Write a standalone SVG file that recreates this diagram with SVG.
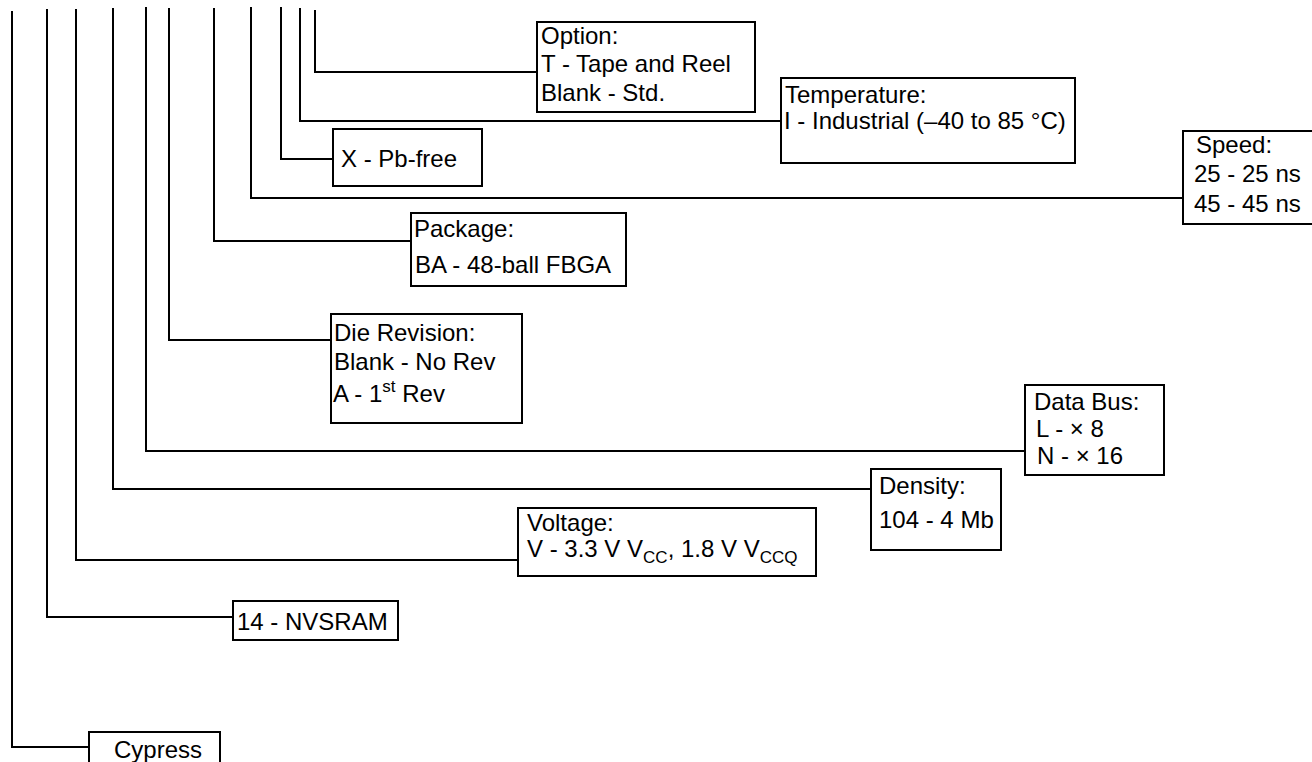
<svg xmlns="http://www.w3.org/2000/svg" width="1312" height="762" viewBox="0 0 1312 762">
<style>
.bg{fill:#ffffff}
.box{fill:#ffffff;stroke:#000000;stroke-width:2}
.con{fill:none;stroke:#000000;stroke-width:2;stroke-linejoin:miter;stroke-linecap:square}
text{font-family:"Liberation Sans",Arial,sans-serif;font-size:24px;fill:#000000}
.s{font-size:17px}
</style>
<rect class="bg" x="0" y="0" width="1312" height="762"/>
<g id="connectors">
<polyline class="con" points="315,11 315,72 537,72"/>
<polyline class="con" points="300,9 300,121 781,121"/>
<polyline class="con" points="281,8 281,159 333,159"/>
<polyline class="con" points="251,8 251,198 1183,198"/>
<polyline class="con" points="214,9 214,241 411,241"/>
<polyline class="con" points="169,9 169,340 331,340"/>
<polyline class="con" points="146,8 146,451 1025,451"/>
<polyline class="con" points="113,9 113,489 871,489"/>
<polyline class="con" points="76,10 76,560 518,560"/>
<polyline class="con" points="47,10 47,617 233,617"/>
<polyline class="con" points="12,12 12,747 89,747"/>
</g>
<g id="option">
<rect class="box" x="537" y="22" width="218" height="90"/>
<text x="541" y="44">Option:</text>
<text x="541" y="72">T - Tape and Reel</text>
<text x="541" y="100.5">Blank - Std.</text>
</g>
<g id="temperature">
<rect class="box" x="781" y="78" width="294" height="85"/>
<text x="785" y="103">Temperature:</text>
<text x="784" y="129">I - Industrial (–40 to 85 °C)</text>
</g>
<g id="pbfree">
<rect class="box" x="333" y="129" width="149" height="57"/>
<text x="341" y="167">X - Pb-free</text>
</g>
<g id="speed">
<rect class="box" x="1183" y="131" width="140" height="93"/>
<text x="1196" y="153">Speed:</text>
<text x="1194" y="182">25 - 25 ns</text>
<text x="1194" y="212">45 - 45 ns</text>
</g>
<g id="package">
<rect class="box" x="411" y="213" width="215" height="73"/>
<text x="414" y="237">Package:</text>
<text x="415" y="273">BA - 48-ball FBGA</text>
</g>
<g id="dierevision">
<rect class="box" x="331" y="314" width="191" height="109"/>
<text x="334" y="341">Die Revision:</text>
<text x="334" y="370">Blank - No Rev</text>
<text x="333" y="402">A - 1<tspan class="s" dy="-10">st</tspan><tspan dy="10"> Rev</tspan></text>
</g>
<g id="databus">
<rect class="box" x="1025" y="385" width="139" height="90"/>
<text x="1034" y="410">Data Bus:</text>
<text x="1036" y="437">L - × 8</text>
<text x="1037" y="464">N - × 16</text>
</g>
<g id="density">
<rect class="box" x="871" y="469" width="130" height="81"/>
<text x="879" y="494">Density:</text>
<text x="879" y="528">104 - 4 Mb</text>
</g>
<g id="voltage">
<rect class="box" x="518" y="508" width="298" height="68"/>
<text x="527" y="531">Voltage:</text>
<text x="527" y="557">V - 3.3 V V<tspan class="s" dy="6">CC</tspan><tspan dy="-6">, 1.8 V V</tspan><tspan class="s" dy="6">CCQ</tspan></text>
</g>
<g id="nvsram">
<rect class="box" x="233" y="601" width="165" height="39"/>
<text x="237" y="630">14 - NVSRAM</text>
</g>
<g id="cypress">
<rect class="box" x="89" y="732" width="131" height="40"/>
<text x="114" y="758">Cypress</text>
</g>
</svg>
